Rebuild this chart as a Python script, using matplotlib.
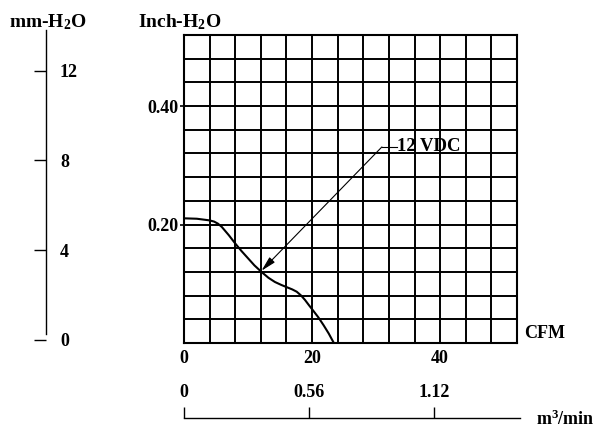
import numpy as np
import matplotlib
matplotlib.use("Agg")
import matplotlib.pyplot as plt

plt.rcParams['font.family'] = ['Liberation Serif', 'DejaVu Serif']
plt.rcParams['font.weight'] = 'bold'
plt.rcParams['mathtext.fontset'] = 'custom'
plt.rcParams['mathtext.rm'] = 'Liberation Serif:bold'
plt.rcParams['mathtext.bf'] = 'Liberation Serif:bold'
plt.rcParams['mathtext.it'] = 'Liberation Serif:bold:italic'

# ---- data ----
flow_cfm = [0.0, 2.0, 4.0, 4.7, 5.3, 5.9, 7.0, 8.0, 9.0, 10.0, 11.0, 12.1, 13.2, 14.2,
            15.2, 16.1, 16.9, 17.6, 18.3, 18.9, 19.5, 20.1, 21.0, 21.8, 22.6, 23.3]
pressure_inch = [0.2105, 0.2098, 0.2070, 0.2050, 0.2015, 0.196, 0.182, 0.168, 0.155,
                 0.143, 0.131, 0.120, 0.110, 0.103, 0.098, 0.094, 0.0905, 0.0866,
                 0.080, 0.0726, 0.064, 0.0557, 0.043, 0.030, 0.016, 0.002]
curve_label = "12 VDC"
arrow_tip = (12.1, 0.122)
arrow_tail = (30.9, 0.331)
leader_end = 33.2

cfm_ticks = [0, 20, 40]
cfm_ticklabels = ["0", "20", "40"]
inch_ticks = [0.20, 0.40]
inch_ticklabels = ["0.20", "0.40"]
mm_ticks = [0, 4, 8, 12]
mm_ticklabels = ["0", "4", "8", "12"]
m3_ticks = [0, 0.56, 1.12]
m3_ticklabels = ["0", "0.56", "1.12"]

FS = 13
FS_HEAD = 14
W, H = 599, 438
fig = plt.figure(figsize=(W / 100, H / 100), dpi=100)

def px_rect(x0, y0, x1, y1):
    return [x0 / W, 1 - y1 / H, (x1 - x0) / W, (y1 - y0) / H]

# ---- main chart ----
ax = fig.add_axes(px_rect(184, 35, 517, 343))
ax.set_xlim(0, 52)
ax.set_ylim(0, 0.52)
ax.set_xticks(np.arange(0, 53, 4), minor=True)
ax.set_yticks(np.arange(0, 0.521, 0.04), minor=True)
ax.set_xticks(cfm_ticks)
ax.set_xticklabels(cfm_ticklabels, fontsize=FS, fontweight='bold')
ax.set_yticks(inch_ticks)
ax.set_yticklabels(inch_ticklabels, fontsize=FS, fontweight='bold')
ax.tick_params(axis='x', which='both', length=0, pad=5)
ax.tick_params(axis='y', which='major', length=3, width=1.2, pad=1)
ax.tick_params(axis='y', which='minor', length=0)
ax.grid(which='both', color='black', lw=1.4)
for s in ax.spines.values():
    s.set_linewidth(1.5)
ax.plot(flow_cfm, pressure_inch, color='black', lw=1.5, zorder=3)
ax.annotate('', xy=arrow_tip, xytext=arrow_tail,
            arrowprops=dict(arrowstyle='-|>,head_length=0.9,head_width=0.22',
                            color='black', lw=0.8, shrinkA=0, shrinkB=0), zorder=4)
ax.plot([arrow_tail[0], leader_end], [arrow_tail[1], arrow_tail[1]], color='black', lw=0.8)
ax.text(leader_end + 0.1, arrow_tail[1], curve_label, fontsize=13.5, fontweight='bold',
        va='center', ha='left', zorder=5)

# ---- mm-H2O axis ----
mm_px_per = (340 - 70.7) / 12
axm = fig.add_axes(px_rect(20, 30, 46, 340))
axm.set_ylim(0, (340 - 30) / mm_px_per)
axm.set_xticks([])
for k in ['left', 'top', 'bottom']:
    axm.spines[k].set_visible(False)
axm.patch.set_visible(False)
axm.spines['right'].set_linewidth(1.0)
axm.spines['right'].set_bounds((340 - 334) / mm_px_per, (340 - 30) / mm_px_per)
axm.yaxis.tick_right()
axm.set_yticks(mm_ticks)
axm.set_yticklabels(mm_ticklabels, fontsize=FS, fontweight='bold')
axm.tick_params(axis='y', direction='in', length=8.6, width=1.0, pad=10)

# ---- m3/min axis ----
m3_px_per = 125 / 0.56
axb = fig.add_axes(px_rect(184, 418, 520, 428))
axb.set_xlim(0, 336 / m3_px_per)
axb.set_yticks([])
for k in ['left', 'right', 'bottom']:
    axb.spines[k].set_visible(False)
axb.patch.set_visible(False)
axb.spines['top'].set_linewidth(1.0)
axb.xaxis.tick_top()
axb.set_xticks(m3_ticks)
axb.set_xticklabels(m3_ticklabels, fontsize=FS, fontweight='bold')
axb.tick_params(axis='x', direction='out', length=7.9, width=1.0, pad=4)

# ---- unit labels ----
fig.text(9 / W, 1 - 22 / H, r"mm-H$_\mathbf{2}$O", fontsize=FS_HEAD, fontweight='bold', va='center', ha='left')
fig.text(138 / W, 1 - 22 / H, r"Inch-H$_\mathbf{2}$O", fontsize=FS_HEAD, fontweight='bold', va='center', ha='left')
fig.text(524 / W, 1 - 334 / H, "CFM", fontsize=FS, fontweight='bold', va='center', ha='left')
fig.text(536 / W, 1 - 419 / H, r"m$^\mathbf{3}$/min", fontsize=FS, fontweight='bold', va='center', ha='left')

fig.savefig("out.png", dpi=100)
